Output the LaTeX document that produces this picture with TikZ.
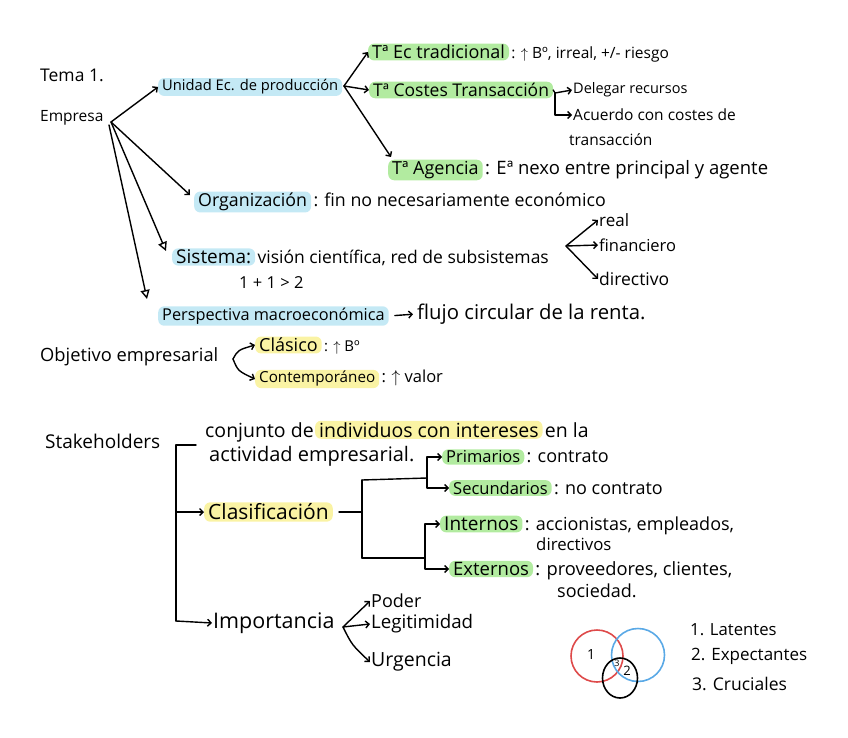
\documentclass[tikz,border=0pt]{standalone}
\usepackage{fontspec}
\setmainfont{Open Sans}
\usetikzlibrary{arrows.meta,shapes.geometric}
\definecolor{hlblue}{HTML}{C4E9F5}
\definecolor{hlgreen}{HTML}{B2EBA0}
\definecolor{hlyellow}{HTML}{FAF3A4}
\definecolor{vred}{HTML}{DE4A4A}
\definecolor{vblue}{HTML}{5AA9E6}
\newcommand\fsz[1]{\fontsize{#1}{#1}\selectfont}
\begin{document}
\begin{tikzpicture}[x=1pt,y=-1pt,
  txt/.style={anchor=west, inner xsep=1pt, inner ysep=1pt, text=black},
  nxt/.style={anchor=base west, inner xsep=2pt, inner ysep=1pt, text=black},
  hl/.style={anchor=west, inner xsep=4pt, inner ysep=1.5pt, rounded corners=6pt, text=black},
  hlb/.style={hl, fill=hlblue},
  hlg/.style={hl, fill=hlgreen},
  hly/.style={hl, fill=hlyellow},
  ln/.style={line width=1.4pt, line cap=round, line join=round},
  con/.style={ln, -{Straight Barb[length=3.5pt,width=7pt]}},
  tri/.style={ln, -{Triangle[open,length=9pt,width=9pt]}},
  vc/.style={circle, line width=1.6pt, inner sep=0pt}
]
\useasboundingbox (0,0) rectangle (848,738);

% ---------- Tema 1 / Empresa ----------
\node[txt, font=\fsz{17.5}] (tema) at (39,75) {Tema 1.};
\node[txt, font=\fsz{15.5}] (empresa) at (39,118) {Empresa};
\coordinate (eo) at (111,122);

\node[hlb, font=\fsz{14.7}] (unidad) at (158,87) {Unidad Ec. de producción};
\draw[con] (eo) -- (unidad.west);

% Teorias
\node[hlg, font=\fsz{18}] (tec) at (368,52) {Tª Ec tradicional};
\node[nxt, font=\fsz{15.5}] (tecR) at (tec.base east) {: $\uparrow$ Bº, irreal, +/- riesgo};
\node[hlg, font=\fsz{17.5}] (tcost) at (369,90) {Tª Costes Transacción};
\node[hlg, font=\fsz{18}] (agencia) at (388,170) {Tª Agencia};
\node[nxt, font=\fsz{18.5}] (agenciaR) at (agencia.base east) {: Eª nexo entre principal y agente};
\coordinate (uo) at (344,86);
\draw[con] (uo) -- (tec.west);
\draw[con] (uo) -- (tcost.west);
\draw[con] (uo) -- ([shift={(3,-13)}]agencia.west);

% Delegar / Acuerdo
\node[txt, font=\fsz{14.5}] (delegar) at (572,90) {Delegar recursos};
\node[txt, font=\fsz{15.5}] (acuerdo) at (572,115) {Acuerdo con costes de};
\node[txt, font=\fsz{15.5}] (transac) at (568,140) {transacción};
\coordinate (tb) at (555,93);
\draw[ln] (tcost.east) -- (tb);
\draw[con] (tb) -- (delegar.west);
\draw[con] (tb) |- (acuerdo.west);

% Organizacion
\node[hlb, font=\fsz{17.8}] (organ) at (194,202) {Organización};
\node[nxt, font=\fsz{17.8}] (organR) at (organ.base east) {: fin no necesariamente económico};
\draw[con] (eo) -- ([shift={(-4,-7)}]organ.west);

% Sistema
\node[hlb, font=\fsz{19}] (sistema) at (172,257) {Sistema:};
\node[nxt, font=\fsz{17.5}] (sistemaR) at (sistema.base east) {visión científica, red de subsistemas};
\node[txt, font=\fsz{16.5}] (suma) at (238,283) {1 + 1 > 2};
\draw[tri] (eo) -- ([shift={(-6,-6)}]sistema.west);
\coordinate (so) at (566,246);
\node[txt, font=\fsz{17}] (real) at (598,220) {real};
\node[txt, font=\fsz{16.5}] (financ) at (598,245) {financiero};
\node[txt, font=\fsz{17.5}] (direct) at (598,279) {directivo};
\draw[con] (so) -- (real.west);
\draw[con] (so) -- (financ.west);
\draw[con] (so) -- (direct.west);

% Perspectiva
\node[hlb, font=\fsz{16.3}] (persp) at (158,316) {Perspectiva macroeconómica};
\node[txt, font=\fsz{20.3}] (flujo) at (416,314) {flujo circular de la renta.};
\draw[tri] ([shift={(-2,3)}]eo) -- ([shift={(-11,-17)}]persp.west);
\draw[con, shorten <=6pt, shorten >=3pt] (persp.east) -- (flujo.west);

% Objetivo empresarial
\node[txt, font=\fsz{18.3}] (objetivo) at (39,357) {Objetivo empresarial};
\node[hly, font=\fsz{18}] (clasico) at (255,345) {Clásico};
\node[nxt, font=\fsz{15}] (clasicoR) at (clasico.base east) {: $\uparrow$ Bº};
\node[hly, font=\fsz{15.2}] (contemp) at (255,379) {Contemporáneo};
\node[nxt, font=\fsz{16.5}] (contempR) at (contemp.base east) {: $\uparrow$ valor};
\coordinate (oo) at (233,359);
\draw[con] (oo) .. controls (238,350) .. (clasico.west);
\draw[con] (oo) .. controls (238,371) .. (contemp.west);

% ---------- Stakeholders ----------
\node[txt, font=\fsz{19}] (stake) at (44,441) {Stakeholders};
\node[txt, font=\fsz{19.5}] (conjA) at (204,432) {conjunto de};
\node[hly, font=\fsz{19.5}, anchor=base west] (conjH) at (conjA.base east) {individuos con intereses};
\node[nxt, font=\fsz{19.5}] (conjB) at (conjH.base east) {en la};
\node[txt, font=\fsz{20}] (conj2) at (208,456) {actividad empresarial.};

\coordinate (bt) at (176,445);
\coordinate (bb) at (176,621);
\coordinate (btend) at (196,445);
\node[hly, font=\fsz{21}] (clasif) at (204,512) {Clasificación};
\node[txt, font=\fsz{21.5}] (import) at (212,623) {Importancia};
\draw[ln] (btend) -- (bt) -- (bb);
\draw[con] (bt |- clasif.west) -- (clasif.west);
\draw[con] (bb) -- (import.west);

% Clasificacion tree
\node[hlg, font=\fsz{16.5}] (prim) at (442,457) {Primarios};
\node[nxt, font=\fsz{18}] (primR) at (prim.base east) {: contrato};
\node[hlg, font=\fsz{16.5}] (secu) at (449,488) {Secundarios};
\node[nxt, font=\fsz{18}] (secuR) at (secu.base east) {: no contrato};
\node[hlg, font=\fsz{19}] (inter) at (440,524) {Internos};
\node[nxt, font=\fsz{18}] (interR) at (inter.base east) {: accionistas, empleados,};
\node[txt, font=\fsz{16.8}] (interR2) at (535,544) {directivos};
\node[hlg, font=\fsz{18.5}] (exter) at (449,569) {Externos};
\node[nxt, font=\fsz{18.3}] (exterR) at (exter.base east) {: proveedores, clientes,};
\node[txt, font=\fsz{18}] (exterR2) at (556,591) {sociedad.};

\coordinate (cv1) at (362,480);
\coordinate (cv2) at (362,558);
\coordinate (p1) at (427,478);
\coordinate (p2) at (425,558);
\draw[ln] ([xshift=6pt]clasif.east) -- (clasif.east -| cv1);
\draw[ln] (cv1) -- (cv2);
\draw[ln] (cv1) -- (p1);
\draw[ln] (cv2) -- (p2);
\draw[con] (p1) |- (prim.west);
\draw[con] (p1) |- (secu.west);
\draw[con] (p2) |- (inter.west);
\draw[con] (p2) |- (exter.west);

% Importancia
\node[txt, font=\fsz{18}] (poder) at (370,601) {Poder};
\node[txt, font=\fsz{18.7}] (legit) at (370,624) {Legitimidad};
\node[txt, font=\fsz{19.5}] (urgen) at (370,662) {Urgencia};
\coordinate (io) at (343,627);
\draw[con] (io) -- (poder.west);
\draw[con] (io) -- (legit.west);
\draw[con] (io) .. controls (352,645) .. (urgen.west);

% Venn
\node[vc, draw=vred, minimum size=52pt] (cred) at (597,656) {};
\node[vc, draw=vblue, minimum size=53pt] (cblue) at (638,655) {};
\node[ellipse, line width=1.6pt, inner sep=0pt, draw=black, minimum width=35pt, minimum height=40pt] (cblack) at (620,678) {};
\node[font=\fsz{14}, inner sep=0pt] (n1) at (591,654) {1};
\node[font=\fsz{9}, inner sep=0pt] (n3) at (617,663) {3};
\node[font=\fsz{13}, inner sep=0pt] (n2) at (627,671) {2};

\node[txt, font=\fsz{16.7}] (lat) at (689,630) {1. Latentes};
\node[txt, font=\fsz{17}] (exp) at (690,656) {2. Expectantes};
\node[txt, font=\fsz{17.5}] (cru) at (691,684) {3. Cruciales};
\end{tikzpicture}
\end{document}
